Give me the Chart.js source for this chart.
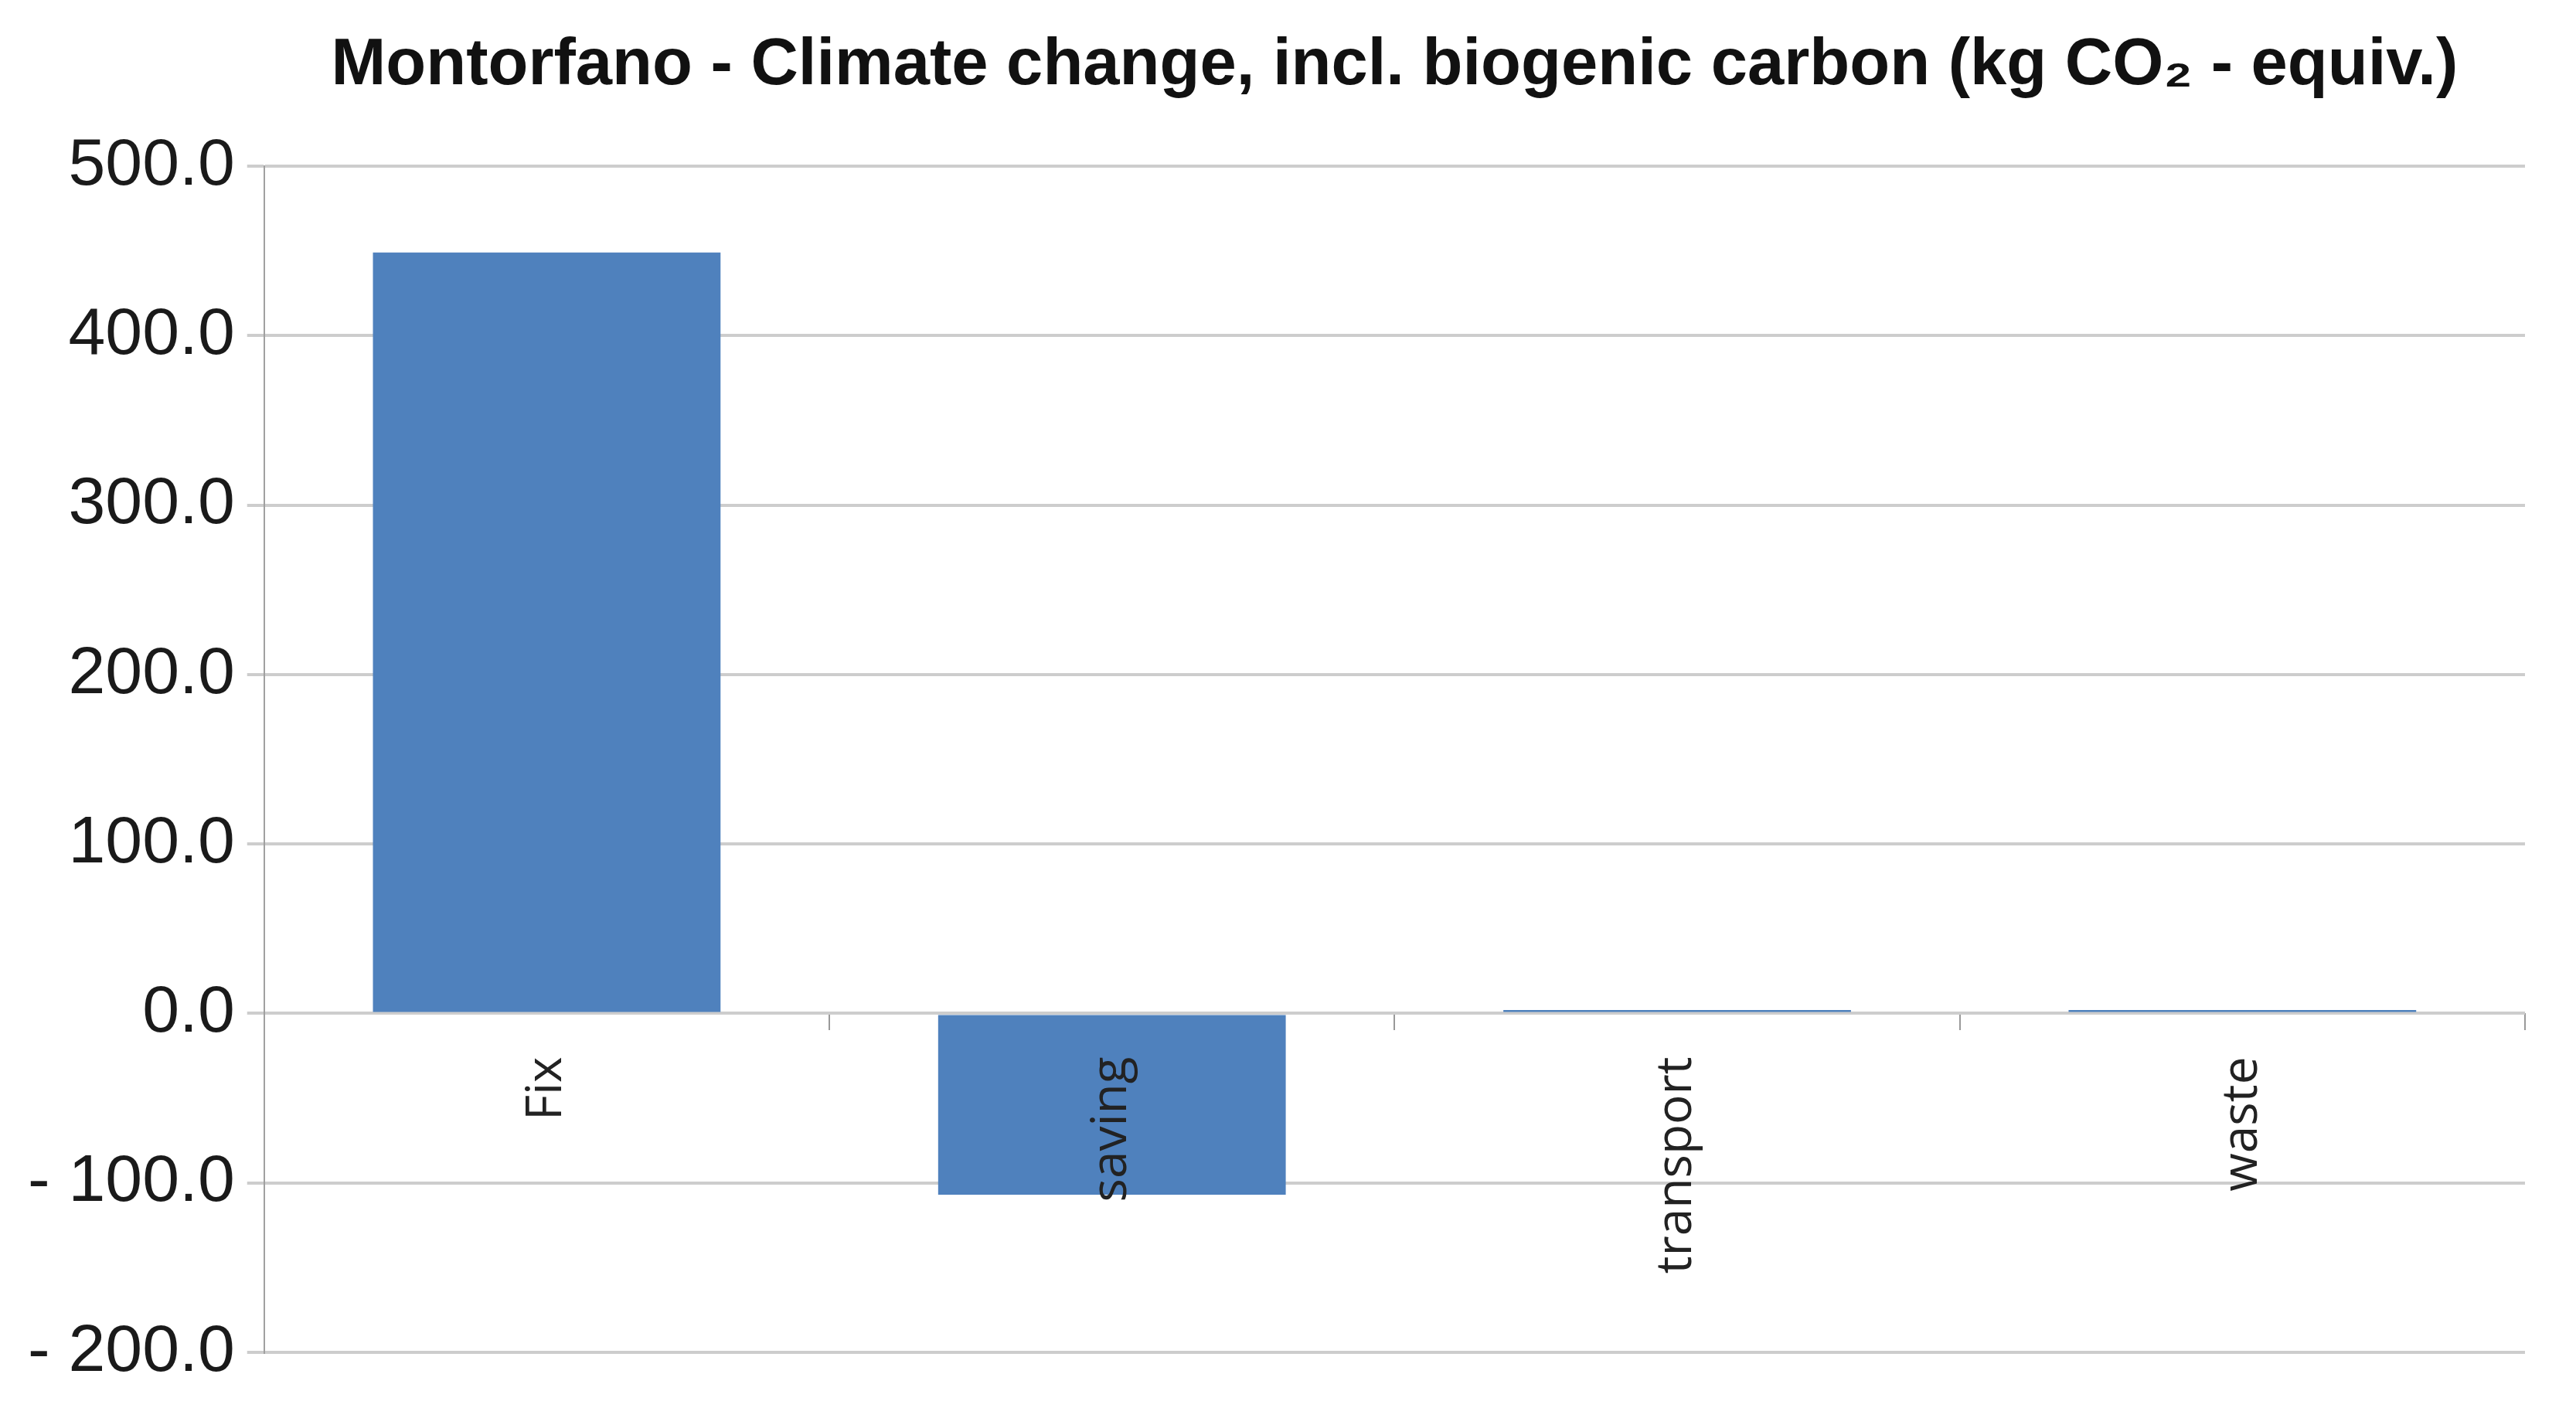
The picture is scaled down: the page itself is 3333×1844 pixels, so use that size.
<!DOCTYPE html>
<html>
<head>
<meta charset="utf-8">
<script src="https://cdn.jsdelivr.net/npm/chart.js@4.4.0/dist/chart.umd.min.js"></script>
<style>
  html, body { margin: 0; padding: 0; background: #fff; }
  #wrap { width: 3333px; height: 1844px; }
</style>
</head>
<body>
<div id="wrap"><canvas id="chart"></canvas></div>
<script>
var chartTitle = 'Montorfano - Climate change, incl. biogenic carbon (kg CO\u2082 - equiv.)';
var categories = ['Fix', 'saving', 'transport', 'waste'];
var values = [449, -107, 2, 2];
var yMin = -200;
var yMax = 500;
var yStep = 100;

function formatTick(v) {
    if (v < 0) {
        return '- ' + Math.abs(v).toFixed(1);
    }
    return v.toFixed(1);
}

new Chart(document.getElementById('chart').getContext('2d'), {
    type: 'bar',
    data: {
        labels: categories,
        datasets: [{
            data: values,
            backgroundColor: '#4f81bd',
            borderWidth: 0,
            barPercentage: 0.615,
            categoryPercentage: 1
        }]
    },
    options: {
        responsive: true,
        maintainAspectRatio: false,
        animation: false,
        layout: {
            padding: { left: 20, right: 66, top: 20, bottom: 94 }
        },
        plugins: {
            legend: { display: false },
            tooltip: { enabled: false },
            title: {
                display: true,
                fullSize: false,
                text: chartTitle,
                color: '#111',
                font: { family: 'Liberation Sans', size: 85, weight: 'bold' },
                padding: { top: 15, bottom: 78 }
            }
        },
        scales: {
            x: {
                position: { y: 0 },
                offset: true,
                grid: {
                    drawOnChartArea: false,
                    drawTicks: true,
                    tickLength: 22,
                    color: '#999',
                    lineWidth: 2
                },
                border: { display: false },
                ticks: {
                    z: 1,
                    minRotation: 90,
                    maxRotation: 90,
                    padding: 34,
                    color: '#222',
                    font: { family: 'Open Sans', size: 64 }
                }
            },
            y: {
                min: yMin,
                max: yMax,
                grid: {
                    color: '#cdcdcd',
                    lineWidth: 4,
                    tickLength: 22
                },
                border: { display: true, color: '#a0a0a0', width: 2 },
                ticks: {
                    stepSize: yStep,
                    padding: 16,
                    color: '#1a1a1a',
                    font: { family: 'Liberation Sans', size: 86 },
                    callback: function (v) { return formatTick(v); }
                }
            }
        }
    }
});
</script>
</body>
</html>
